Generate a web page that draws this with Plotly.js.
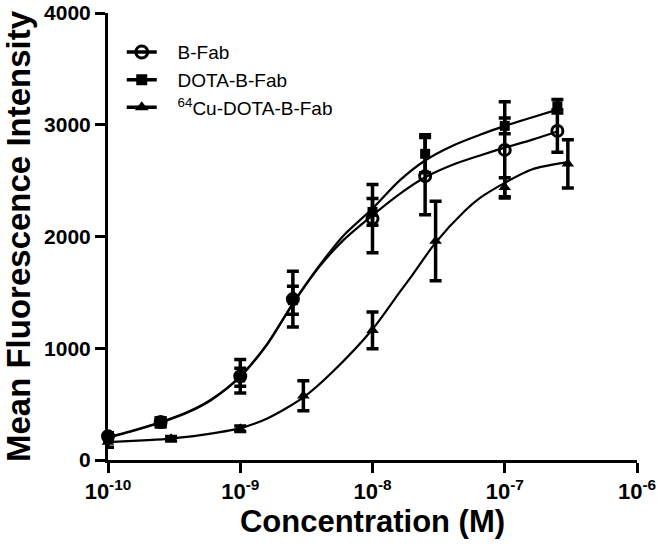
<!DOCTYPE html>
<html>
<head>
<meta charset="utf-8">
<script src="https://cdn.plot.ly/plotly-3.0.1.min.js"></script>
<style>
  html, body { margin: 0; padding: 0; background: #fff; }
  #chart { width: 658px; height: 550px; }
</style>
</head>
<body>
<div id="chart"></div>
<script>
// ---- data ----
const seriesNames = ["B-Fab", "DOTA-B-Fab", "<sup>64</sup>Cu-DOTA-B-Fab"];

const bfabX   = [1e-10, 2.5e-10, 1e-9, 2.5e-9, 1e-8, 2.5e-8, 1e-7, 2.5e-7];
const bfabY   = [213, 340, 750, 1440, 2160, 2540, 2775, 2945];
const bfabErr = [30, 35, 150, 250, 305, 345, 430, 190];

const dotaX   = [1e-10, 2.5e-10, 1e-9, 2.5e-9, 1e-8, 2.5e-8, 1e-7, 2.5e-7];
const dotaY   = [200, 335, 740, 1430, 2220, 2740, 2990, 3165];
const dotaErr = [30, 40, 80, 125, 120, 170, 70, 60];

const cuX   = [1e-10, 3e-10, 1e-9, 3e-9, 1e-8, 3e-8, 1e-7, 3e-7];
const cuY   = [160, 190, 280, 575, 1160, 1960, 2440, 2650];
const cuErr = [45, 20, 25, 135, 165, 355, 85, 215];

// fitted curves
const fitX    = [1e-10, 1.5e-10, 2.5e-10, 4e-10, 6e-10, 1e-9, 1.6e-9, 2.5e-9, 4e-9, 6e-9, 1e-8, 1.6e-8, 2.5e-8, 4e-8, 6.5e-8, 1e-7, 1.6e-7, 2.5e-7];
const bfabFit = [205, 260, 340, 430, 540, 750, 1040, 1400, 1735, 1965, 2190, 2380, 2530, 2640, 2725, 2795, 2865, 2940];
const dotaFit = [200, 255, 335, 425, 535, 745, 1035, 1400, 1745, 2005, 2250, 2500, 2680, 2810, 2910, 2990, 3065, 3135];

const cuFitX = [1e-10, 2e-10, 3e-10, 5e-10, 1e-9, 1.6e-9, 3e-9, 5e-9, 1e-8, 1.6e-8, 2e-8, 3e-8, 5e-8, 6.5e-8, 1e-7, 1.6e-7, 3e-7];
const cuFit  = [160, 178, 192, 222, 285, 372, 560, 790, 1170, 1500, 1655, 1945, 2230, 2345, 2480, 2600, 2665];

const xTickVals = [1e-10, 1e-9, 1e-8, 1e-7, 1e-6];
const xTickText = ["10<sup>-10</sup>", "10<sup>-9</sup>", "10<sup>-8</sup>", "10<sup>-7</sup>", "10<sup>-6</sup>"];
const yTickVals = [0, 1000, 2000, 3000, 4000];

// ---- traces ----
const FONT = "Liberation Sans, Arial, Helvetica, sans-serif";
const symbols = ["circle-open", "square", "triangle-up"];
const msize = [11, 10, 11];
const PAD = "\u00a0\u00a0\u00a0";

function curve(x, y) {
  return { x: x, y: y, type: "scatter", mode: "lines", showlegend: false, hoverinfo: "skip",
           line: { color: "#000", width: 2.2, shape: "spline", smoothing: 0.8 }, cliponaxis: false };
}
function points(x, y, e, i) {
  return { x: x, y: y, type: "scatter", mode: "markers", showlegend: false, cliponaxis: false,
           marker: { symbol: symbols[i], size: msize[i], color: "#000",
                     line: { color: "#000", width: i === 0 ? 3 : 0 } },
           error_y: { type: "data", array: e, visible: true, color: "#000", thickness: 3.5, width: 6 } };
}
function legendItem(i) {
  return { x: [null], y: [null], type: "scatter", mode: "lines+markers", name: PAD + seriesNames[i],
           marker: { symbol: symbols[i], size: msize[i] + 1, color: "#000",
                     line: { color: "#000", width: i === 0 ? 3 : 0 } },
           line: { color: "#000", width: 3.5 } };
}

const data = [
  curve(fitX, bfabFit), curve(fitX, dotaFit), curve(cuFitX, cuFit),
  points(cuX, cuY, cuErr, 2), points(dotaX, dotaY, dotaErr, 1), points(bfabX, bfabY, bfabErr, 0),
  legendItem(0), legendItem(1), legendItem(2)
];

const layout = {
  width: 658, height: 550,
  margin: { l: 108, r: 21, t: 13, b: 90, pad: 0 },
  paper_bgcolor: "#fff", plot_bgcolor: "#fff",
  font: { family: FONT, color: "#000" },
  showlegend: true,
  legend: {
    x: 0.026, y: 0.955, xanchor: "left", yanchor: "top",
    font: { family: FONT, size: 19, color: "#000" },
    bgcolor: "rgba(0,0,0,0)", borderwidth: 0, tracegroupgap: 0
  },
  xaxis: {
    type: "log", range: [-10, -6], autorange: false,
    tickvals: xTickVals, ticktext: xTickText,
    ticks: "outside", ticklen: 10, tickwidth: 3, tickcolor: "#000",
    showline: true, linewidth: 3, linecolor: "#000", showgrid: false, zeroline: false,
    tickfont: { family: FONT, size: 22, weight: "bold", color: "#000" },
    ticklabeloverflow: "allow",
    title: { text: "Concentration (M)", standoff: 0,
             font: { family: FONT, size: 31, weight: "bold", color: "#000" } },
    automargin: false
  },
  yaxis: {
    range: [0, 4000], autorange: false,
    tickvals: yTickVals,
    ticks: "outside", ticklen: 10, tickwidth: 3, tickcolor: "#000",
    showline: true, linewidth: 3, linecolor: "#000", showgrid: false, zeroline: false,
    tickfont: { family: FONT, size: 21, weight: "bold", color: "#000" },
    ticklabeloverflow: "allow",
    title: { text: "Mean Fluorescence Intensity", standoff: 22,
             font: { family: FONT, size: 33, weight: "bold", color: "#000" } },
    automargin: false
  }
};

Plotly.newPlot("chart", data, layout, { displayModeBar: false, staticPlot: true });
</script>
</body>
</html>
